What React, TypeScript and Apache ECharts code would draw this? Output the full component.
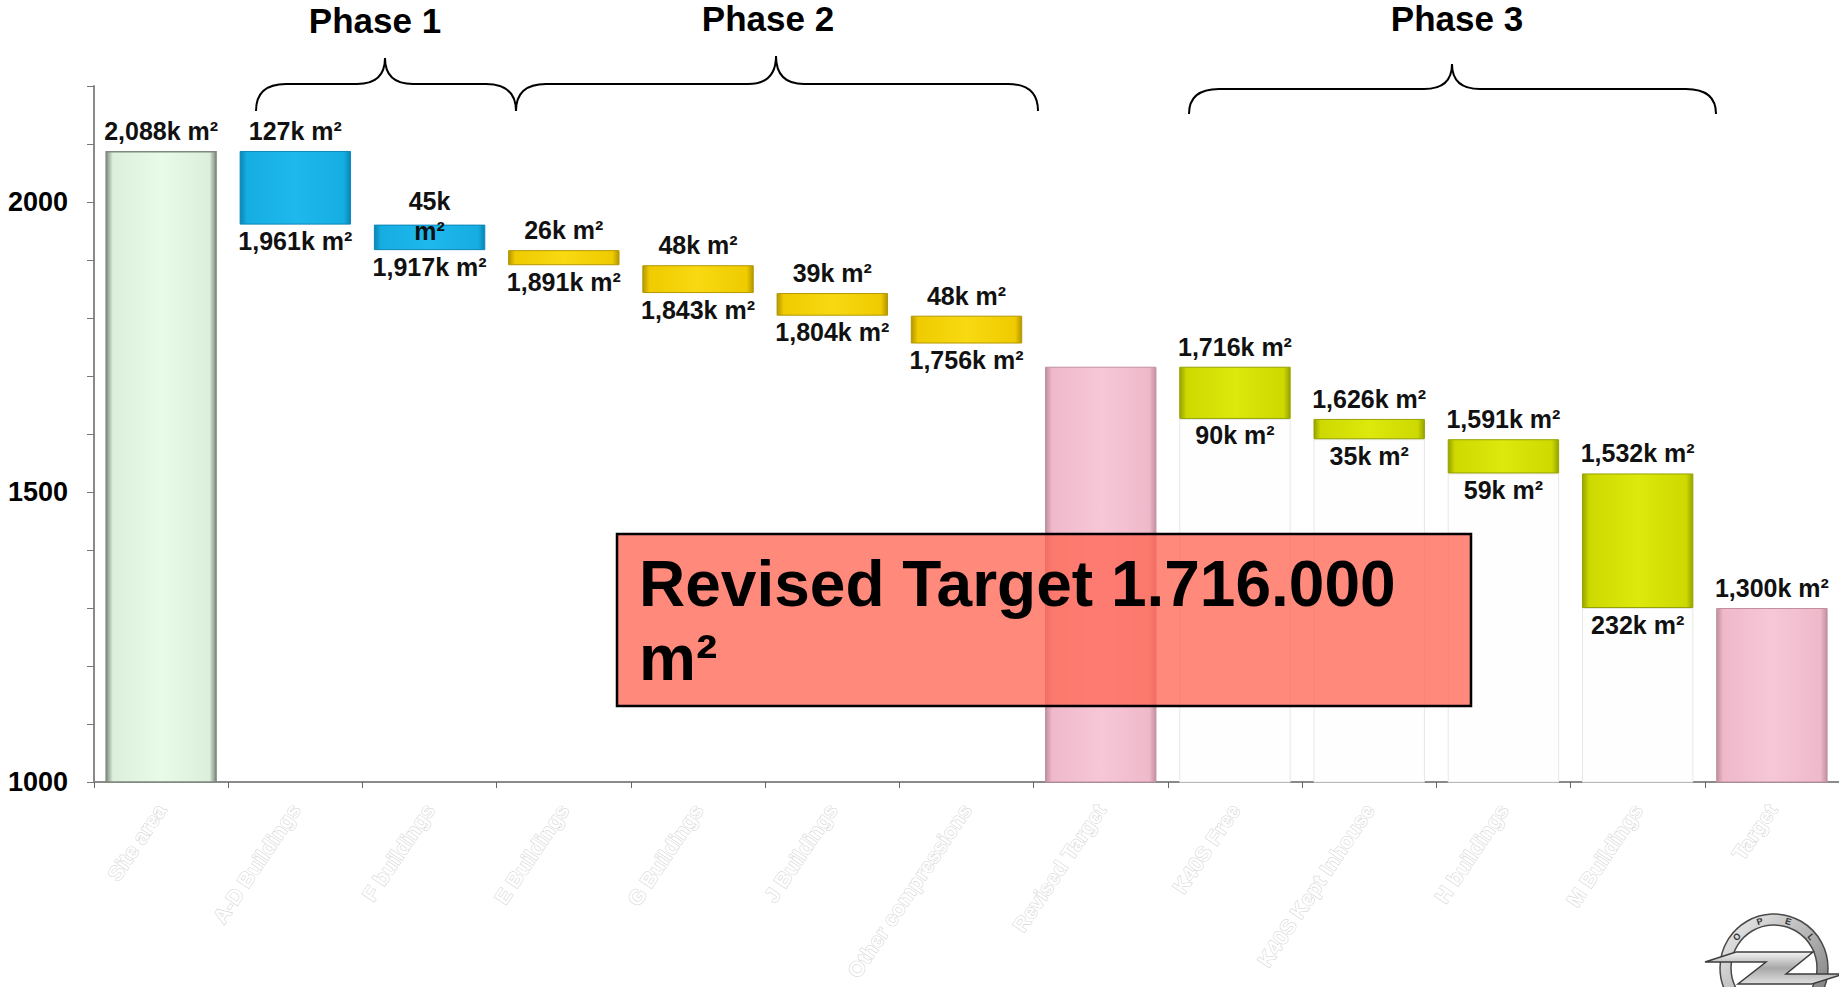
import React, { useEffect, useRef } from "react";
import * as echarts from "echarts";

// ---- data ----
const categories = [
  "Site area",
  "A-D Buildings",
  "F buildings",
  "E Buildings",
  "G Buildings",
  "J Buildings",
  "Other compressions",
  "Revised Target",
  "K40S Free",
  "K40S Kept Inhouse",
  "H buildings",
  "M Buildings",
  "Target",
];
const barKinds = ["total", "p1", "p1", "p2", "p2", "p2", "p2", "revised", "p3", "p3", "p3", "p3", "target"];
const startValues = [null, 2088, 1961, 1917, 1891, 1843, 1804, null, 1716, 1626, 1591, 1532, null];
const endValues = [2088, 1961, 1917, 1891, 1843, 1804, 1756, 1716, 1626, 1591, 1532, 1300, 1300];
const deltaLabels = [null, 127, 45, 26, 48, 39, 48, null, 90, 35, 59, 232, null];
const wrappedTopLabels = [2];
const yMin = 1000;
const yMax = 2200;
const yInterval = 100;
const yLabelStep = 500;
const phaseTitles = ["Phase 1", "Phase 2", "Phase 3"];
const calloutText = "Revised Target 1.716.000\nm²";

// ---- styles ----
const grad = (edge: string, mid: string, center: string) => ({
  type: "linear",
  x: 0,
  y: 0,
  x2: 1,
  y2: 0,
  colorStops: [
    { offset: 0, color: edge },
    { offset: 0.06, color: mid },
    { offset: 0.5, color: center },
    { offset: 0.94, color: mid },
    { offset: 1, color: edge },
  ],
});
const kindStyle: Record<string, any> = {
  total: { color: grad("#7f8a7f", "#dcefdc", "#e8fae8"), borderColor: "#7f8a7f", borderWidth: 1.5 },
  p1: { color: grad("#0b84b3", "#15ade2", "#1fb8ec"), borderColor: "#0c87b8", borderWidth: 1 },
  p2: { color: grad("#b59700", "#efcb00", "#f8d912"), borderColor: "#b59700", borderWidth: 1 },
  p3: { color: grad("#96a300", "#cdd900", "#dde80c"), borderColor: "#96a300", borderWidth: 1 },
  revised: { color: grad("#c1909f", "#efb9ca", "#f6c7d7"), borderColor: "#c1909f", borderWidth: 1 },
  target: { color: grad("#c1909f", "#efb9ca", "#f6c7d7"), borderColor: "#c1909f", borderWidth: 1 },
};
const ghostStyle = { color: "#fdfefd", borderColor: "#e6e8e6", borderWidth: 1 };
const hiddenStyle = { color: "transparent", borderWidth: 0 };

const FONT = "Liberation Sans, Arial, sans-serif";
const labelBase = { fontFamily: FONT, fontWeight: "bold", fontSize: 25, color: "#111" };

const fmtK = (v: number) => v.toLocaleString("en-US") + "k m²";

function braceD(x0: number, x1: number, xm: number, yTip: number, yH: number, yEnd: number) {
  const r = 30;
  const r2 = 28;
  return `M${x0} ${yEnd} Q${x0} ${yH} ${x0 + r} ${yH} L${xm - r2} ${yH} Q${xm} ${yH} ${xm} ${yTip} Q${xm} ${yH} ${xm + r2} ${yH} L${x1 - r} ${yH} Q${x1} ${yH} ${x1} ${yEnd}`;
}

function registerShapes() {
  echarts.graphic.registerShape("brace1", echarts.graphic.extendPath(braceD(256, 516, 385, 58, 84, 111), {}));
  echarts.graphic.registerShape("brace2", echarts.graphic.extendPath(braceD(516, 1038, 776, 56, 84, 111), {}));
  echarts.graphic.registerShape("brace3", echarts.graphic.extendPath(braceD(1189, 1716, 1452, 64, 89, 114), {}));
}

export default function App() {
  const ref = useRef<HTMLDivElement>(null);

  useEffect(() => {
    if (!ref.current) return;
    registerShapes();
    const chart = echarts.init(ref.current, undefined, { renderer: "svg" });

    const baseData = categories.map((_, i) => {
      const kind = barKinds[i];
      const isStep = startValues[i] !== null;
      const style = kind === "p3" ? ghostStyle : hiddenStyle;
      let bottomText: string | null = null;
      if (isStep) {
        bottomText = kind === "p3" ? `${deltaLabels[i]}k m²` : fmtK(endValues[i]);
      }
      return {
        value: isStep ? endValues[i] : 0,
        itemStyle: isStep ? style : hiddenStyle,
        label: bottomText
          ? { show: true, position: "insideTop", distance: 4, formatter: bottomText, ...labelBase }
          : { show: false },
      };
    });

    const visData = categories.map((_, i) => {
      const kind = barKinds[i];
      const isStep = startValues[i] !== null;
      const value = isStep ? (startValues[i] as number) - endValues[i] : endValues[i];
      let topText: string | null = null;
      if (kind === "total" || kind === "target") topText = fmtK(endValues[i]);
      else if (kind === "p3") topText = fmtK(startValues[i] as number);
      else if (kind === "p1" || kind === "p2") topText = `${deltaLabels[i]}k m²`;
      const wrapped = wrappedTopLabels.includes(i);
      if (wrapped && topText) topText = topText.replace(" ", "\n");
      return {
        value,
        itemStyle: kindStyle[kind],
        label: topText
          ? {
              show: true,
              position: "top",
              distance: 6,
              formatter: topText,
              lineHeight: wrapped ? 30 : 28,
              offset: wrapped ? [0, 27] : [0, 0],
              ...labelBase,
            }
          : { show: false },
      };
    });

    const ringCx = 1774;
    const ringCy = 968;
    const opelLetters = ["O", "P", "E", "L"];
    const letterAngles = [-50, -17, 17, 50];
    const letterEls = opelLetters.map((ch, k) => {
      const a = (letterAngles[k] * Math.PI) / 180;
      return {
        type: "text",
        z: 101,
        x: ringCx + 48.5 * Math.sin(a),
        y: ringCy - 48.5 * Math.cos(a),
        rotation: -a,
        style: {
          text: ch,
          font: "bold 9px " + FONT,
          fill: "#333",
          align: "center",
          verticalAlign: "middle",
        },
      };
    });

    const titleStyle = (t: string) => ({
      text: t,
      font: "bold 35px " + FONT,
      fill: "#000",
      align: "center",
      verticalAlign: "middle",
    });

    const option: any = {
      animation: false,
      backgroundColor: "#ffffff",
      grid: {
        left: 94,
        right: 0,
        top: 86,
        bottom: 205,
        containLabel: false,
        outerBoundsMode: "none",
      },
      xAxis: {
        type: "category",
        data: categories,
        axisLine: { show: true, lineStyle: { color: "#8a8a8a", width: 2 } },
        axisTick: { show: true, length: 6, lineStyle: { color: "#666" } },
        axisLabel: {
          interval: 0,
          rotate: 56,
          margin: 24,
          fontFamily: FONT,
          fontWeight: "bold",
          fontSize: 21,
          color: "#ffffff",
          textBorderColor: "#cfcfcf",
          textBorderWidth: 1,
        },
        splitLine: { show: false },
      },
      yAxis: {
        type: "value",
        min: yMin,
        max: yMax,
        interval: yInterval,
        axisLine: { show: true, lineStyle: { color: "#8a8a8a", width: 2 } },
        axisTick: { show: true, length: 7, lineStyle: { color: "#777" } },
        axisLabel: {
          margin: 26,
          fontFamily: FONT,
          fontWeight: "bold",
          fontSize: 27,
          color: "#000",
          formatter: (v: number) => (v % yLabelStep === 0 ? String(v) : ""),
        },
        splitLine: { show: false },
      },
      series: [
        {
          type: "bar",
          stack: "wf",
          barCategoryGap: "17%",
          data: baseData,
          clip: true,
          silent: true,
        },
        {
          type: "bar",
          stack: "wf",
          barCategoryGap: "17%",
          data: visData,
          clip: true,
          silent: true,
        },
      ],
      graphic: [
        { type: "brace1", z: 100, x: 0, y: 0, style: { fill: "none", stroke: "#000", lineWidth: 2 } },
        { type: "brace2", z: 100, x: 0, y: 0, style: { fill: "none", stroke: "#000", lineWidth: 2 } },
        { type: "brace3", z: 100, x: 0, y: 0, style: { fill: "none", stroke: "#000", lineWidth: 2 } },
        { type: "text", z: 100, x: 375, y: 20, style: titleStyle(phaseTitles[0]) },
        { type: "text", z: 100, x: 768, y: 18, style: titleStyle(phaseTitles[1]) },
        { type: "text", z: 100, x: 1457, y: 18, style: titleStyle(phaseTitles[2]) },
        {
          type: "rect",
          z: 100,
          shape: { x: 617, y: 534, width: 854, height: 172 },
          style: { fill: "rgba(255,100,80,0.76)", stroke: "#000", lineWidth: 2.5 },
        },
        {
          type: "text",
          z: 101,
          x: 639,
          y: 547,
          style: {
            text: calloutText,
            font: "bold 64px " + FONT,
            lineHeight: 74,
            fill: "#000",
            align: "left",
            verticalAlign: "top",
          },
        },
        {
          type: "ring",
          z: 100,
          shape: { cx: ringCx, cy: ringCy, r: 54, r0: 43 },
          style: {
            fill: {
              type: "linear",
              x: 0,
              y: 0,
              x2: 1,
              y2: 1,
              colorStops: [
                { offset: 0, color: "#f2f2f2" },
                { offset: 0.5, color: "#b5b5b5" },
                { offset: 1, color: "#6a6a6a" },
              ],
            },
            stroke: "#4a4a4a",
            lineWidth: 1.5,
          },
        },
        ...letterEls,
        {
          type: "polygon",
          z: 102,
          shape: {
            points: [
              [1705, 962],
              [1736, 952],
              [1813, 952],
              [1786, 974],
              [1844, 974],
              [1812, 984],
              [1738, 984],
              [1766, 962],
            ],
          },
          style: {
            fill: {
              type: "linear",
              x: 0,
              y: 0,
              x2: 0,
              y2: 1,
              colorStops: [
                { offset: 0, color: "#f4f4f4" },
                { offset: 0.5, color: "#a8a8a8" },
                { offset: 1, color: "#e0e0e0" },
              ],
            },
            stroke: "#3c3c3c",
            lineWidth: 1.5,
          },
        },
      ],
    };

    chart.setOption(option);
    return () => {
      chart.dispose();
    };
  }, []);

  return (
    <div
      ref={ref}
      style={{ position: "absolute", left: 0, top: 0, width: 1839, height: 987, background: "#fff" }}
    />
  );
}
